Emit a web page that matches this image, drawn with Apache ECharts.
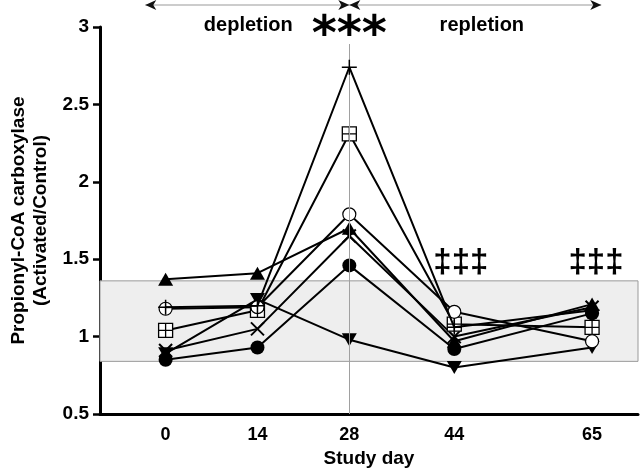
<!DOCTYPE html>
<html><head><meta charset="utf-8">
<script src="https://cdn.jsdelivr.net/npm/echarts@6/dist/echarts.min.js"></script>
<style>html,body{margin:0;padding:0;background:#fff}#c{width:641px;height:471px}</style>
</head><body><div id="c"></div>
<script>
// ---- data ----
const studyDays = [0, 14, 28, 44, 65];
const yTicks = [0.5, 1, 1.5, 2, 2.5, 3];
const plusVals     = [1.19, 1.20, 2.74, 1.06, 1.17];
const squareVals   = [1.04, 1.17, 2.31, 1.08, 1.06];
const openCircVals = [1.18, 1.19, 1.79, 1.16, 0.97];
const triUpVals    = [1.37, 1.41, 1.70, 0.97, 1.21];
const crossVals    = [0.91, 1.05, 1.65, 1.00, 1.19];
const filledCircVals = [0.85, 0.93, 1.46, 0.92, 1.15];
const triDownVals  = [0.89, 1.24, 0.98, 0.80, 0.93];
const normalRange = [0.84, 1.36];
const peakDay = 28;

const FONT = 'Liberation Sans, Arial, sans-serif';
const pairs = v => studyDays.map((d, i) => [d, v[i]]);

function mk(name, vals, symbol, size, item, z) {
  return {
    name, type: 'line', data: pairs(vals), symbol, symbolSize: size,
    lineStyle: { color: '#000', width: 2 },
    itemStyle: item, z: z || 3, silent: true
  };
}
const black = { color: '#000', borderWidth: 0 };
const series = [
  {
    type: 'line', data: [], z: 1, silent: true,
    markArea: { silent: true, itemStyle: { color: '#eeeeee', borderColor: '#9a9a9a', borderWidth: 1 },
      data: [[{ yAxis: normalRange[0] }, { yAxis: normalRange[1] }]] },
    markLine: { silent: true, symbol: ['none', 'none'], label: { show: false },
      lineStyle: { color: '#a0a0a0', width: 1, type: 'solid' },
      data: [[{ coord: [peakDay, 2.89] }, { coord: [peakDay, 0.5] }]] }
  },
  mk('tridown', triDownVals, 'path://M0,0L12,0L6,10Z', [15, 13], black),
  mk('filledcirc', filledCircVals, 'circle', 14, black),
  mk('cross', crossVals, 'path://M0,0L10,10M10,0L0,10', 13, { color: 'transparent', borderColor: '#000', borderWidth: 2 }),
  mk('triup', triUpVals, 'triangle', [15, 13], black),
  mk('square', squareVals, 'path://M0,0L10,0L10,10L0,10ZM5,0L5,10M0,5L10,5', 14, { color: '#fff', borderColor: '#000', borderWidth: 1.3 }, 4),
  mk('opencirc', openCircVals, 'circle', 13, { color: '#fff', borderColor: '#000', borderWidth: 1.2 }, 4),
  mk('plus', plusVals, 'path://M5,0L5,10M0,5L10,5', 15, { color: 'transparent', borderColor: '#000', borderWidth: 1.5 }, 5)
];

const option = {
  animation: false,
  backgroundColor: '#fff',
  grid: { left: 100, right: 3, top: 27, bottom: 57, outerBoundsMode: 'none', containLabel: false },
  xAxis: {
    type: 'value', min: -10, max: 72,
    name: 'Study day', nameLocation: 'middle', nameGap: 35,
    nameTextStyle: { color: '#000', fontFamily: FONT, fontWeight: 'bold', fontSize: 19 },
    axisLine: { onZero: false, lineStyle: { color: '#000', width: 3 } },
    axisTick: { show: false },
    splitLine: { show: false },
    axisLabel: { customValues: studyDays, color: '#000', fontFamily: FONT, fontWeight: 'bold', fontSize: 18, margin: 12 }
  },
  yAxis: {
    type: 'value', min: 0.5, max: 3, interval: 0.5,
    name: 'Propionyl-CoA carboxylase\n(Activated/Control)', nameLocation: 'middle', nameGap: 46, nameRotate: 90,
    nameTextStyle: { color: '#000', fontFamily: FONT, fontWeight: 'bold', fontSize: 19, lineHeight: 22 },
    axisLine: { show: true, onZero: false, lineStyle: { color: '#000', width: 3 } },
    axisTick: { show: true, length: 7, lineStyle: { color: '#000', width: 2.5 } },
    splitLine: { show: false },
    axisLabel: { color: '#000', fontFamily: FONT, fontWeight: 'bold', fontSize: 19, margin: 11,
      formatter: v => String(v) }
  },
  series
};

const chart = echarts.init(document.getElementById('c'), null, { renderer: 'canvas' });
chart.setOption(option);

const P = (x, y) => chart.convertToPixel({ gridIndex: 0 }, [x, y]);
const arrowY = 3.142;
const L = P(-3.1, arrowY), M = P(peakDay, arrowY), R = P(66.4, arrowY);
function head(tip, dir) { // dir -1 = pointing left, 1 = pointing right
  const x = tip[0], y = tip[1];
  return { type: 'polygon', silent: true, shape: { points: [[x, y], [x - dir * 11, y - 5], [x - dir * 8, y], [x - dir * 11, y + 5]] },
    style: { fill: '#111' } };
}
function txt(str, at, size, family, vAlign) {
  return { type: 'text', silent: true, x: at[0], y: at[1],
    style: { text: str, fill: '#000', font: 'bold ' + size + 'px ' + family, align: 'center', verticalAlign: vAlign || 'middle' } };
}
const graphics = [
  { type: 'line', silent: true, shape: { x1: L[0], y1: L[1], x2: R[0], y2: R[1] }, style: { stroke: '#cccccc', lineWidth: 2 } },
  head(L, -1), head(M, 1), head(M, -1), head(R, 1),
  txt('depletion', P(12.6, 3.013), 20, FONT),
  txt('repletion', P(48.2, 3.013), 20, FONT),
  txt('***', P(peakDay, 2.94), 48, 'DejaVu Sans'),
  txt('‡‡‡', P(45.0, 1.475), 33, FONT),
  txt('‡‡‡', P(65.6, 1.475), 33, FONT)
];
chart.setOption({ graphic: graphics });
</script>
</body></html>
